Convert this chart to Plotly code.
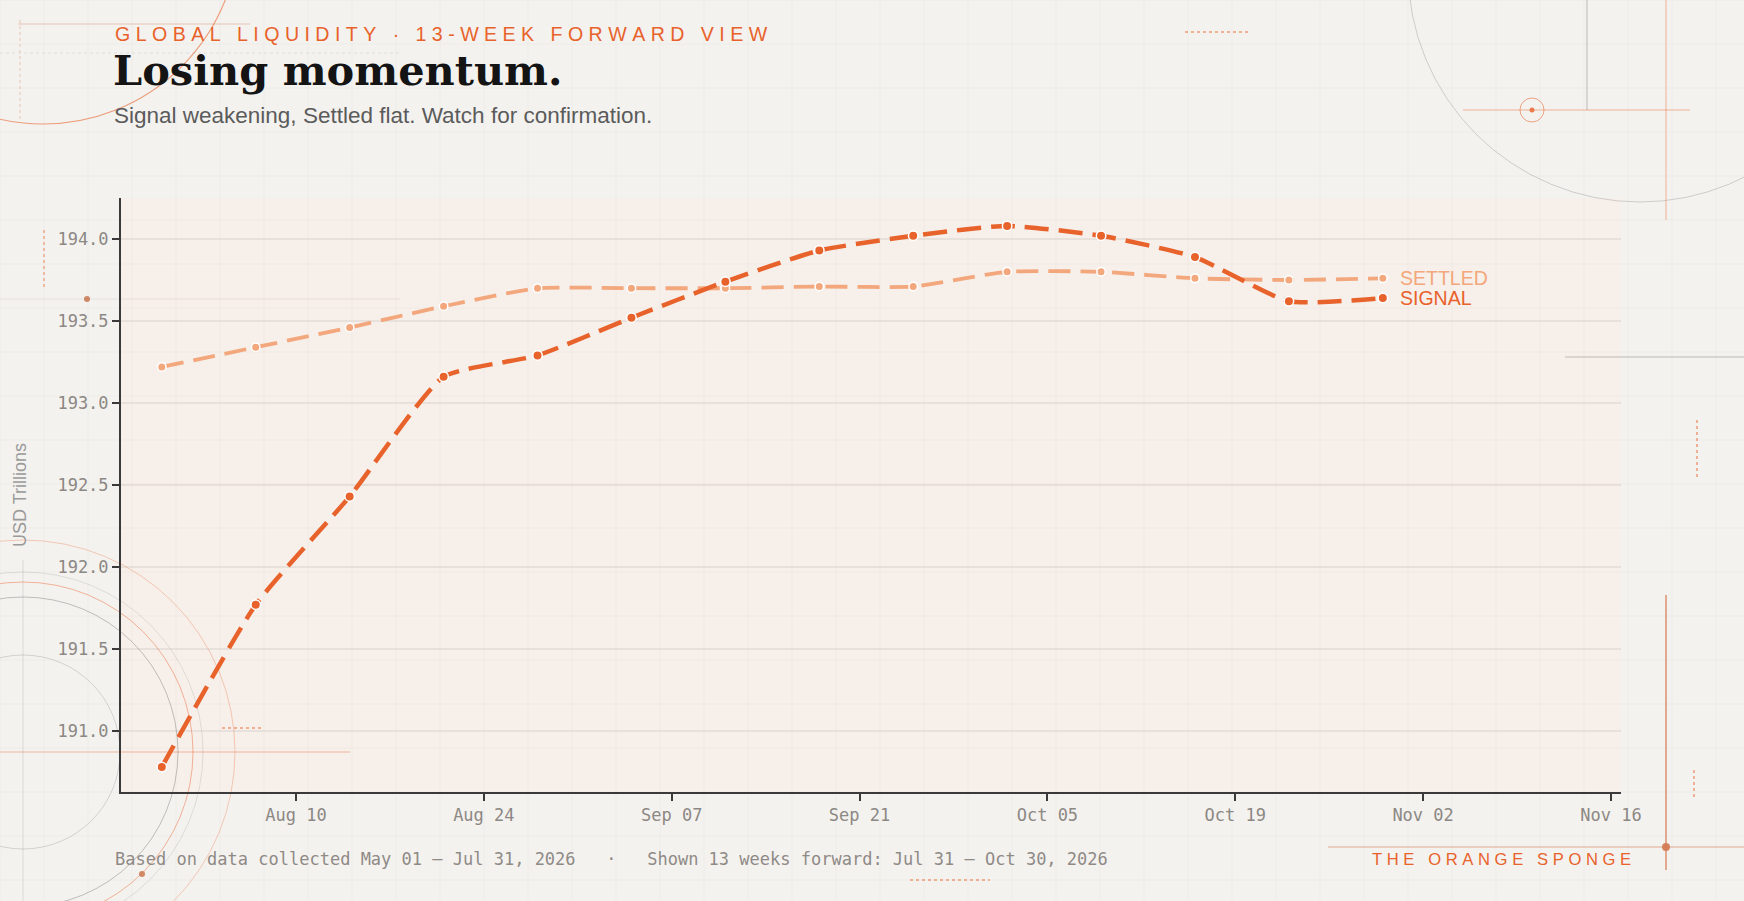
import plotly.graph_objects as go

# ---------------- data ----------------
dates = ["2026-07-31", "2026-08-07", "2026-08-14", "2026-08-21", "2026-08-28",
         "2026-09-04", "2026-09-11", "2026-09-18", "2026-09-25", "2026-10-02",
         "2026-10-09", "2026-10-16", "2026-10-23", "2026-10-30"]
signal = [190.78, 191.77, 192.43, 193.16, 193.29, 193.52, 193.74,
          193.93, 194.02, 194.08, 194.02, 193.89, 193.62, 193.64]
settled = [193.22, 193.34, 193.46, 193.59, 193.70, 193.70, 193.70,
           193.71, 193.71, 193.80, 193.80, 193.76, 193.75, 193.76]
y_ticks = [191.0, 191.5, 192.0, 192.5, 193.0, 193.5, 194.0]

kicker = "GLOBAL LIQUIDITY · 13-WEEK FORWARD VIEW"
title = "Losing momentum."
subtitle = "Signal weakening, Settled flat. Watch for confirmation."
footer_left = "Based on data collected May 01 – Jul 31, 2026   ·   Shown 13 weeks forward: Jul 31 – Oct 30, 2026"
brand = "THE ORANGE SPONGE"

# ---------------- style ----------------
SIGNAL_C = "#E8622B"
SETTLED_C = "#F3A77C"
PAPER = "#F4F2EF"
PLOT = "#F7EFEA"
MONO = "DejaVu Sans Mono"
SANS = "Liberation Sans, Arial, sans-serif"

FW, FH = 1744, 901
L, T, R, B = 121, 198, 1621, 792
PW, PH = R - L, B - T


def px(x):
    return (x - L) / PW


def py(y):
    return (B - y) / PH


def spaced(s):
    return "\u00a0".join(ch if ch != " " else "\u00a0" for ch in s)


fig = go.Figure()

fig.add_trace(go.Scatter(
    x=dates, y=settled, mode="lines+markers", name="SETTLED",
    line=dict(color=SETTLED_C, width=3.8, dash="22px,10px", shape="spline", smoothing=0.5),
    marker=dict(size=8.5, color=SETTLED_C, line=dict(color="white", width=1.5)),
    hoverinfo="x+y",
))
fig.add_trace(go.Scatter(
    x=dates, y=signal, mode="lines+markers", name="SIGNAL",
    line=dict(color=SIGNAL_C, width=4.5, dash="24px,10px", shape="spline", smoothing=0.5),
    marker=dict(size=9.5, color=SIGNAL_C, line=dict(color="white", width=1.5)),
    hoverinfo="x+y",
))

ann = []
ann.append(dict(text=spaced(kicker), x=px(113), y=py(34), xref="paper", yref="paper",
                xanchor="left", yanchor="middle", showarrow=False,
                font=dict(family=SANS, size=19.6, color=SIGNAL_C)))
ann.append(dict(text="<b>" + title + "</b>", x=px(111), y=py(71), xref="paper", yref="paper",
                xanchor="left", yanchor="middle", showarrow=False,
                font=dict(family="DejaVu Serif, serif", size=41.5, color="#141414")))
ann.append(dict(text=subtitle, x=px(112), y=py(115), xref="paper", yref="paper",
                xanchor="left", yanchor="middle", showarrow=False,
                font=dict(family=SANS, size=22.5, color="#5b5b5b")))
ann.append(dict(text="USD Trillions", x=px(20), y=0.5, xref="paper", yref="paper",
                xanchor="center", yanchor="middle", textangle=-90, showarrow=False,
                font=dict(family=SANS, size=18, color="#9a9a9a")))
ann.append(dict(text=footer_left.replace(" ", "\u00a0"), x=px(113), y=py(859), xref="paper", yref="paper",
                xanchor="left", yanchor="middle", showarrow=False,
                font=dict(family=MONO, size=17, color="#8f8a86")))
ann.append(dict(text=spaced(brand), x=px(1633), y=py(859), xref="paper", yref="paper",
                xanchor="right", yanchor="middle", showarrow=False,
                font=dict(family=SANS, size=16.6, color=SIGNAL_C)))
ann.append(dict(text="SETTLED", x=dates[-1], y=settled[-1], xref="x", yref="y",
                xanchor="left", yanchor="middle", xshift=15, showarrow=False,
                font=dict(family=SANS, size=19.5, color=SETTLED_C)))
ann.append(dict(text="SIGNAL", x=dates[-1], y=signal[-1], xref="x", yref="y",
                xanchor="left", yanchor="middle", xshift=15, showarrow=False,
                font=dict(family=SANS, size=19.5, color=SIGNAL_C)))

# ---------------- decorative background shapes ----------------
shapes = []


def circle(cx, cy, r, color, width=1, dash="solid"):
    shapes.append(dict(type="circle", xref="paper", yref="paper", layer="below",
                       x0=px(cx - r), x1=px(cx + r), y0=py(cy + r), y1=py(cy - r),
                       line=dict(color=color, width=width, dash=dash)))


def hline(x0, x1, y, color, width=1, dash="solid"):
    shapes.append(dict(type="line", xref="paper", yref="paper", layer="below",
                       x0=px(x0), x1=px(x1), y0=py(y), y1=py(y),
                       line=dict(color=color, width=width, dash=dash)))


def vline(x, y0, y1, color, width=1, dash="solid"):
    shapes.append(dict(type="line", xref="paper", yref="paper", layer="below",
                       x0=px(x), x1=px(x), y0=py(y0), y1=py(y1),
                       line=dict(color=color, width=width, dash=dash)))


def dot(cx, cy, r, color):
    shapes.append(dict(type="circle", xref="paper", yref="paper", layer="below",
                       x0=px(cx - r), x1=px(cx + r), y0=py(cy + r), y1=py(cy - r),
                       fillcolor=color, line=dict(width=0)))


# faint graph-paper grid
for gx in range(0, FW, 44):
    vline(gx, 0, FH, "rgba(120,110,100,0.05)", 1)
for gy in range(0, FH, 44):
    hline(0, FW, gy, "rgba(120,110,100,0.05)", 1)

# top-left
circle(43, -72, 196, "rgba(232,98,43,0.6)", 1.2)
hline(18, 250, 24, "rgba(200,110,70,0.35)", 1)
vline(20, 20, 120, "rgba(200,110,70,0.35)", 1, "dot")
hline(0, 400, 53, "rgba(120,110,100,0.14)", 1, "dot")
dot(87, 299, 3, "rgba(200,110,70,0.8)")
hline(0, 400, 299, "rgba(120,110,100,0.12)", 1)
vline(44, 230, 290, "rgba(232,98,43,0.5)", 1.5, "dot")

# bottom-left
circle(23, 752, 97, "rgba(90,90,90,0.22)", 1)
circle(23, 752, 155, "rgba(90,90,90,0.35)", 1)
circle(23, 752, 180, "rgba(90,90,90,0.15)", 1)
circle(23, 752, 170, "rgba(232,98,43,0.45)", 1)
circle(23, 752, 212, "rgba(232,98,43,0.3)", 1)
hline(0, 350, 752, "rgba(232,98,43,0.4)", 1)
vline(23, 560, FH, "rgba(90,90,90,0.15)", 1)
dot(142, 874, 3, "rgba(200,110,70,0.8)")
hline(222, 262, 728, "rgba(232,98,43,0.6)", 1.5, "dot")

# top-right
circle(1640, -30, 232, "rgba(90,90,90,0.25)", 1)
circle(1532, 110, 12, "rgba(232,98,43,0.55)", 1)
dot(1532, 110, 2.5, "rgba(232,98,43,0.8)")
hline(1463, 1690, 110, "rgba(232,98,43,0.45)", 1)
vline(1666, 0, 220, "rgba(232,98,43,0.45)", 1)
vline(1587, 0, 110, "rgba(80,80,80,0.35)", 1)
hline(1185, 1250, 32, "rgba(232,98,43,0.6)", 1.5, "dot")

# right side
vline(1666, 595, 870, "rgba(210,120,80,0.8)", 1.5)
hline(1328, FW, 847, "rgba(210,120,80,0.6)", 1.2)
dot(1666, 847, 4, "rgba(210,120,80,0.9)")
hline(1565, FW, 357, "rgba(80,80,80,0.35)", 1)
vline(1697, 420, 480, "rgba(232,98,43,0.6)", 1.5, "dot")
vline(1694, 770, 800, "rgba(232,98,43,0.6)", 1.5, "dot")
hline(910, 990, 880, "rgba(232,98,43,0.6)", 1.5, "dot")

fig.update_layout(
    width=FW, height=FH,
    paper_bgcolor=PAPER, plot_bgcolor=PLOT,
    margin=dict(l=L, r=FW - R, t=T, b=FH - B, pad=0),
    showlegend=False,
    annotations=ann,
    shapes=shapes,
    xaxis=dict(
        type="date",
        range=["2026-07-27 23:00", "2026-11-16 18:00"],
        tick0="2026-08-10", dtick=14 * 24 * 3600 * 1000, tickformat="%b %d",
        showgrid=False, zeroline=False,
        showline=True, linecolor="#3a3a3a", linewidth=2,
        ticks="outside", ticklen=7, tickwidth=1.5, tickcolor="#3a3a3a",
        tickfont=dict(family=MONO, size=17, color="#8c8884"),
    ),
    yaxis=dict(
        range=[190.628, 194.25],
        tickvals=y_ticks, ticktext=[f"{v:.1f}" for v in y_ticks],
        showgrid=True, gridcolor="rgba(120,110,100,0.11)", gridwidth=1.5,
        zeroline=False,
        showline=True, linecolor="#3a3a3a", linewidth=2,
        ticks="outside", ticklen=7, tickwidth=1.5, tickcolor="#3a3a3a",
        tickfont=dict(family=MONO, size=17, color="#8c8884"),
    ),
)

fig.write_html(
    "out.html",
    config={"displayModeBar": False},
    post_script="document.body.style.margin='0px';document.body.style.overflow='hidden';",
)
